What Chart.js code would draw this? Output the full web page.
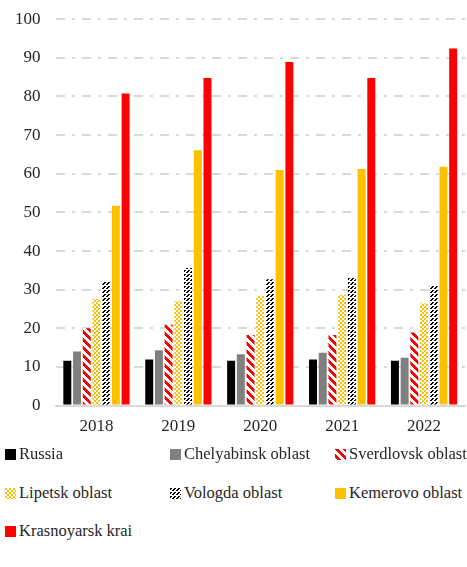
<!DOCTYPE html>
<html>
<head>
<meta charset="utf-8">
<script src="https://cdn.jsdelivr.net/npm/chart.js@4"></script>
<style>
  body { margin: 0; background: #fff; font-family: 'Liberation Serif', serif; }
  #wrap { position: relative; width: 467px; height: 458px; margin-top: -6px; }
  #legend { position: absolute; left: 0; top: 440px; width: 467px; }
  .item { position: absolute; display: flex; align-items: center; font-size: 16.5px; color: #262626; white-space: nowrap; }
  .item canvas { width: 11px; height: 11px; margin-right: 3px; }
</style>
</head>
<body>
<div id="wrap"><canvas id="chart"></canvas></div>
<div id="legend"></div>
<script>
// ---- data ----
const years = ['2018', '2019', '2020', '2021', '2022'];
const seriesNames = ['Russia', 'Chelyabinsk oblast', 'Sverdlovsk oblast', 'Lipetsk oblast',
    'Vologda oblast', 'Kemerovo oblast', 'Krasnoyarsk krai'];
const russia      = [11.6, 11.9, 11.6, 11.9, 11.6];
const chelyabinsk = [14.0, 14.3, 13.3, 13.7, 12.4];
const sverdlovsk  = [20.0, 20.9, 18.3, 18.3, 18.9];
const lipetsk     = [27.6, 27.1, 28.4, 28.7, 26.4];
const vologda     = [32.1, 35.6, 32.7, 33.2, 31.1];
const kemerovo    = [51.7, 66.1, 61.0, 61.2, 61.8];
const krasnoyarsk = [80.8, 84.8, 88.9, 84.8, 92.4];
const yTicks = [0, 10, 20, 30, 40, 50, 60, 70, 80, 90, 100];

// small pattern tiles like the Excel fills
function makePattern(kind) {
    const c = document.createElement('canvas');
    c.width = 8; c.height = 8;
    const g = c.getContext('2d');
    g.fillStyle = '#fff';
    g.fillRect(0, 0, 8, 8);
    for (let y = 0; y < 8; y++) {
        for (let x = 0; x < 8; x++) {
            let on = false, col = '#000';
            if (kind === 'redDiag') { on = ((x - y + 16) % 8) < 4; col = '#ff0000'; }
            if (kind === 'check') { on = (((x >> 1) + (y >> 1)) % 2) === 0; col = '#ffc000'; }
            if (kind === 'blackDash') { on = ((x + y) % 4) < 2 && (y % 4) !== 3; col = '#000'; }
            if (on) { g.fillStyle = col; g.fillRect(x, y, 1, 1); }
        }
    }
    return c;
}

const ctx = document.getElementById('chart').getContext('2d');
const fills = [
    '#000000',
    '#808080',
    ctx.createPattern(makePattern('redDiag'), 'repeat'),
    ctx.createPattern(makePattern('check'), 'repeat'),
    ctx.createPattern(makePattern('blackDash'), 'repeat'),
    '#ffc000',
    '#ff0000'
];
const tiles = [null, null, 'redDiag', 'check', 'blackDash', null, null];
const values = [russia, chelyabinsk, sverdlovsk, lipetsk, vologda, kemerovo, krasnoyarsk];

const chart = new Chart(ctx, {
    type: 'bar',
    data: {
        labels: years,
        datasets: seriesNames.map((name, i) => ({
            label: name,
            data: values[i],
            backgroundColor: fills[i],
            borderWidth: 0,
            categoryPercentage: 0.83,
            barPercentage: 0.82
        }))
    },
    options: {
        responsive: true,
        maintainAspectRatio: false,
        animation: false,
        layout: { padding: { top: 4, right: 2, bottom: 4, left: 0 } },
        plugins: { legend: { display: false }, tooltip: { enabled: false } },
        scales: {
            x: {
                grid: { display: false, drawTicks: false },
                border: { display: true, color: '#d9d9d9', width: 2 },
                ticks: { color: '#262626', font: { family: 'Liberation Serif', size: 17 }, padding: 11 }
            },
            y: {
                min: 0, max: 100,
                afterBuildTicks: axis => { axis.ticks = yTicks.map(v => ({ value: v })); },
                grid: { color: '#d9d9d9', lineWidth: 2, drawTicks: false },
                border: { display: false, dash: [9, 7, 3, 7] },
                ticks: { color: '#262626', font: { family: 'Liberation Serif', size: 17 }, padding: 15 }
            }
        }
    }
});

// legend in three fixed columns
const legend = document.getElementById('legend');
const cols = [5, 170, 335];
const rows = [14, 53, 91];
seriesNames.forEach((name, i) => {
    const item = document.createElement('div');
    item.className = 'item';
    item.style.left = cols[i % 3] + 'px';
    item.style.top = (rows[Math.floor(i / 3)] - 10) + 'px';
    const sw = document.createElement('canvas');
    sw.width = 11; sw.height = 11;
    const sg = sw.getContext('2d');
    if (tiles[i]) {
        sg.fillStyle = sg.createPattern(makePattern(tiles[i]), 'repeat');
    } else {
        sg.fillStyle = fills[i];
    }
    sg.fillRect(0, 0, 11, 11);
    const label = document.createElement('span');
    label.textContent = name;
    item.appendChild(sw);
    item.appendChild(label);
    legend.appendChild(item);
});
</script>
</body>
</html>
